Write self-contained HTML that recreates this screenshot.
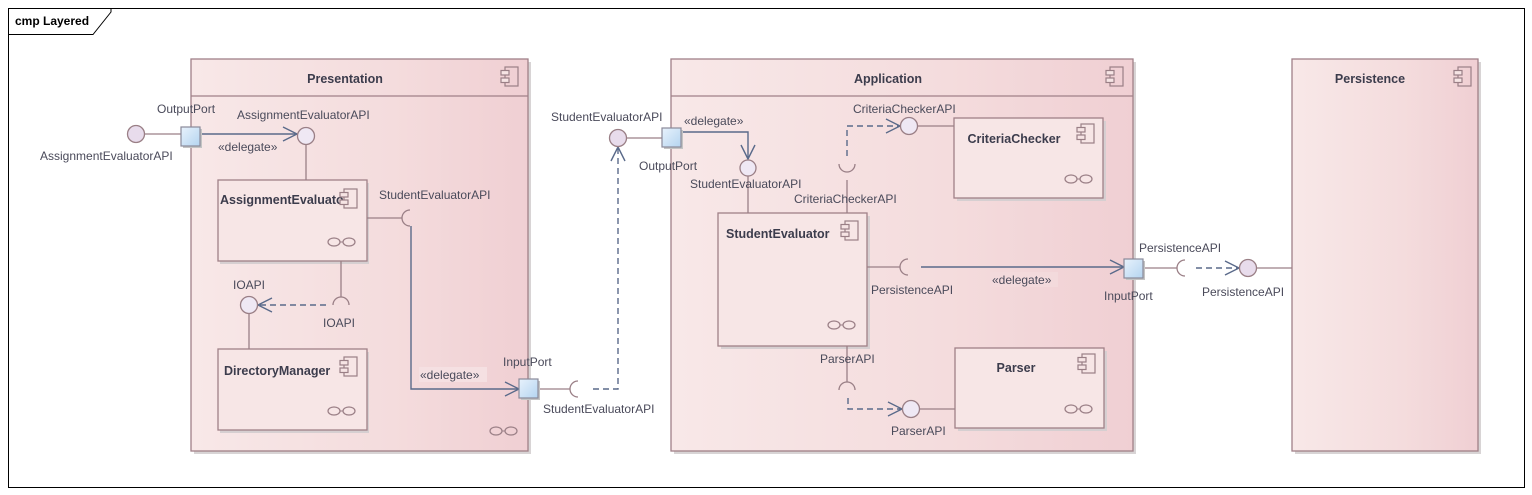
<!DOCTYPE html>
<html><head><meta charset="utf-8"><style>
html,body{margin:0;padding:0;background:#fff;width:1532px;height:495px;overflow:hidden}
svg{display:block}
text{font-family:"Liberation Sans",sans-serif;font-size:12px;fill:#4a4a5a}
.b{font-weight:bold;font-size:12.5px;fill:#3c3c4c}
</style></head><body>
<svg width="1532" height="495" viewBox="0 0 1532 495" xmlns="http://www.w3.org/2000/svg">
<defs>
<linearGradient id="g" x1="0" x2="1" y1="0" y2="0">
<stop offset="0" stop-color="#f8e8e8"/><stop offset="0.6" stop-color="#f4dcdd"/><stop offset="1" stop-color="#f0cfd3"/>
</linearGradient>
<linearGradient id="pg" x1="0" x2="1" y1="0" y2="1">
<stop offset="0" stop-color="#e8f2fc"/><stop offset="1" stop-color="#b4d4f0"/>
</linearGradient>
<g id="ci"><rect x="0" y="0" width="13" height="19" fill="none" stroke="#9a7f86" stroke-width="1.2"/><rect x="-4" y="3.5" width="8" height="4.5" fill="#f6e4e4" stroke="#9a7f86" stroke-width="1.2"/><rect x="-4" y="11" width="8" height="4.5" fill="#f6e4e4" stroke="#9a7f86" stroke-width="1.2"/></g>
<g id="oo"><ellipse cx="-7" cy="0" rx="6" ry="4" fill="none" stroke="#9a7f86" stroke-width="1.2"/><ellipse cx="8" cy="0" rx="6" ry="4" fill="none" stroke="#9a7f86" stroke-width="1.2"/><line x1="-1" y1="0" x2="2" y2="0" stroke="#9a7f86"/></g>
</defs>
<rect x="8.5" y="8.5" width="1516" height="479" fill="none" stroke="#000" stroke-width="1"/>
<path d="M8.5 34.5 H93 L111 12 V8.5" fill="none" stroke="#000"/>
<text x="15" y="25" style="font-size:12px;fill:#000;font-weight:bold">cmp Layered</text>

<g fill="#d8d4d5"><rect x="194" y="62" width="337" height="392"/><rect x="674" y="62" width="462" height="392"/><rect x="1295" y="62" width="186" height="392"/></g>
<g stroke="#a08088" stroke-width="1.3" fill="url(#g)">
<rect x="191" y="59" width="337" height="392"/>
<rect x="671" y="59" width="462" height="392"/>
<rect x="1292" y="59" width="186" height="392"/>
</g>
<line x1="191" y1="96" x2="528" y2="96" stroke="#a08088" stroke-width="1.3"/>
<line x1="671" y1="96" x2="1133" y2="96" stroke="#a08088" stroke-width="1.3"/>
<text class="b" x="345" y="83" text-anchor="middle">Presentation</text>
<text class="b" x="888" y="83" text-anchor="middle">Application</text>
<text class="b" x="1370" y="83" text-anchor="middle">Persistence</text>
<use href="#ci" x="505" y="67"/><use href="#ci" x="1110" y="67"/><use href="#ci" x="1458" y="67"/>
<use href="#oo" x="503" y="431"/>

<g fill="#d6cfd1"><rect x="220" y="183" width="149" height="81"/><rect x="220" y="352" width="149" height="81"/><rect x="721" y="216" width="149" height="133"/><rect x="957" y="121" width="149" height="80"/><rect x="958" y="351" width="149" height="80"/></g>
<g stroke="#a08088" stroke-width="1.3" fill="#f7e6e6">
<rect x="218" y="180" width="149" height="81"/>
<rect x="218" y="349" width="149" height="81"/>
<rect x="718" y="213" width="149" height="133"/>
<rect x="954" y="118" width="149" height="80"/>
<rect x="955" y="348" width="149" height="80"/>
</g>
<text class="b" x="220" y="204">AssignmentEvaluato</text>
<text class="b" x="224" y="375">DirectoryManager</text>
<text class="b" x="726" y="238">StudentEvaluator</text>
<text class="b" x="1014" y="143" text-anchor="middle">CriteriaChecker</text>
<text class="b" x="1016" y="372" text-anchor="middle">Parser</text>
<use href="#ci" x="344" y="189"/><use href="#ci" x="344" y="357"/><use href="#ci" x="845" y="221"/><use href="#ci" x="1081" y="124"/><use href="#ci" x="1082" y="354"/>
<use href="#oo" x="341" y="242"/><use href="#oo" x="341" y="411"/><use href="#oo" x="841" y="325"/><use href="#oo" x="1078" y="179"/><use href="#oo" x="1078" y="409"/>

<g stroke="#9a7f86" stroke-width="1.3" fill="none">
<line x1="145" y1="134" x2="181" y2="134"/>
<line x1="306" y1="145" x2="306" y2="180"/>
<line x1="367" y1="218" x2="402" y2="218"/>
<path d="M410 210 A8 8 0 0 0 410 226"/>
<line x1="341" y1="261" x2="341" y2="297"/>
<path d="M333 305 A8 8 0 0 1 349 305"/>
<line x1="249" y1="314" x2="249" y2="349"/>
<line x1="538" y1="389" x2="570" y2="389"/>
<path d="M578 381 A8 8 0 0 0 578 397"/>
<line x1="626" y1="138" x2="662" y2="138"/>
<line x1="748" y1="176" x2="748" y2="213"/>
<line x1="847" y1="180" x2="847" y2="213"/>
<path d="M839 164 A8 8 0 0 0 855 164"/>
<line x1="918" y1="126" x2="954" y2="126"/>
<line x1="867" y1="267" x2="900" y2="267"/>
<path d="M908 259 A8 8 0 0 0 908 275"/>
<line x1="847" y1="346" x2="847" y2="382"/>
<path d="M839 390 A8 8 0 0 1 855 390"/>
<line x1="920" y1="409" x2="955" y2="409"/>
<line x1="1143" y1="268" x2="1177" y2="268"/>
<path d="M1185 260 A8 8 0 0 0 1185 276"/>
<line x1="1257" y1="268" x2="1292" y2="268"/>
</g>

<g stroke="#5a6a8a" stroke-width="1.4" fill="none">
<line x1="200" y1="134" x2="297" y2="134"/><path d="M283 127 L297 134 L283 141"/>
<path d="M411 226 V389 H519"/><path d="M505 382 L519 389 L505 396"/>
<path d="M681 132 H748 V159"/><path d="M741 145 L748 159 L755 145"/>
<line x1="921" y1="267" x2="1124" y2="267"/><path d="M1110 260 L1124 267 L1110 274"/>
</g>
<g stroke="#5a6a8a" stroke-width="1.4" fill="none" stroke-dasharray="6,4">
<line x1="326" y1="305" x2="258" y2="305"/>
<path d="M593 389 H618 V147"/>
<path d="M847 156 V126 H900"/>
<path d="M848 398 V409 H902"/>
<line x1="1196" y1="268" x2="1239" y2="268"/>
</g>
<g stroke="#5a6a8a" stroke-width="1.4" fill="none">
<path d="M272 298 L258 305 L272 312"/>
<path d="M611 161 L618 147 L625 161"/>
<path d="M886 119 L900 126 L886 133"/>
<path d="M888 402 L902 409 L888 416"/>
<path d="M1225 261 L1239 268 L1225 275"/>
</g>

<g stroke="#9a7f86" stroke-width="1.3">
<circle cx="136" cy="134" r="8.5" fill="#e8dcec"/>
<circle cx="306" cy="136" r="8.5" fill="#efe8f4"/>
<circle cx="249" cy="305" r="8.5" fill="#efe8f4"/>
<circle cx="618" cy="138" r="8.5" fill="#e8dcec"/>
<circle cx="748" cy="168" r="8" fill="#efe8f4"/>
<circle cx="909" cy="126" r="8.5" fill="#efe8f4"/>
<circle cx="911" cy="409" r="8.5" fill="#efe8f4"/>
<circle cx="1248" cy="268" r="8.5" fill="#e8dcec"/>
</g>
<g fill="#c4c4c4"><rect x="183" y="129" width="19" height="19"/><rect x="521" y="381" width="19" height="19"/><rect x="664" y="130" width="19" height="19"/><rect x="1126" y="261" width="19" height="19"/></g>
<g stroke="#8a8a9a" stroke-width="1.2" fill="url(#pg)">
<rect x="181" y="127" width="19" height="19"/>
<rect x="519" y="379" width="19" height="19"/>
<rect x="662" y="128" width="19" height="19"/>
<rect x="1124" y="259" width="19" height="19"/>
</g>

<text x="157" y="113">OutputPort</text>
<text x="40" y="160">AssignmentEvaluatorAPI</text>
<text x="237" y="119">AssignmentEvaluatorAPI</text>
<text x="218" y="151">«delegate»</text>
<text x="379" y="199">StudentEvaluatorAPI</text>
<text x="233" y="289">IOAPI</text>
<text x="323" y="327">IOAPI</text>
<rect x="419" y="367" width="68" height="15" fill="#f5e0e2"/>
<text x="420" y="379">«delegate»</text>
<text x="503" y="366">InputPort</text>
<text x="543" y="413">StudentEvaluatorAPI</text>
<text x="551" y="121">StudentEvaluatorAPI</text>
<text x="684" y="125">«delegate»</text>
<text x="639" y="170">OutputPort</text>
<text x="690" y="188">StudentEvaluatorAPI</text>
<text x="853" y="113">CriteriaCheckerAPI</text>
<text x="794" y="203">CriteriaCheckerAPI</text>
<text x="871" y="294">PersistenceAPI</text>
<rect x="990" y="272" width="68" height="15" fill="#f3dadc"/>
<text x="992" y="284">«delegate»</text>
<text x="820" y="363">ParserAPI</text>
<text x="891" y="435">ParserAPI</text>
<text x="1104" y="300">InputPort</text>
<text x="1139" y="252">PersistenceAPI</text>
<text x="1202" y="296">PersistenceAPI</text>
</svg>
</body></html>
